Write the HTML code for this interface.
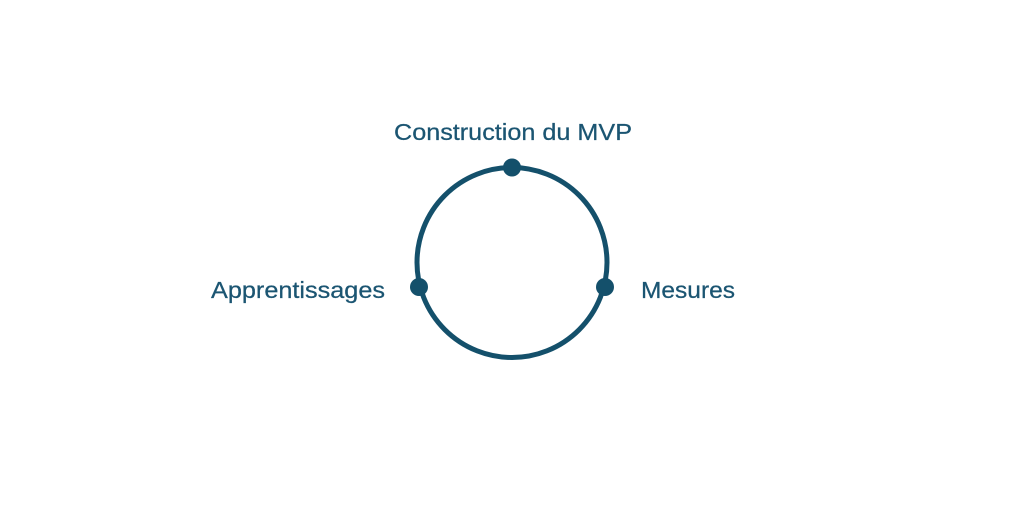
<!DOCTYPE html>
<html><head><style>
body{margin:0;width:1024px;height:500px;background:#fff;overflow:hidden}
svg text{font-family:"Liberation Sans",sans-serif;font-size:23px;fill:#1b5572;stroke:#1b5572;stroke-width:0.25}
</style></head><body>
<svg width="1024" height="500" viewBox="0 0 1024 500">
<circle cx="512" cy="262.5" r="95" fill="none" stroke="#14506b" stroke-width="5"/>
<circle cx="512" cy="167.5" r="9" fill="#14506b"/>
<circle cx="419" cy="287" r="9" fill="#14506b"/>
<circle cx="605" cy="287" r="9" fill="#14506b"/>
<text x="513" y="140" text-anchor="middle" textLength="238" lengthAdjust="spacingAndGlyphs">Construction du MVP</text>
<text x="385" y="298" text-anchor="end" textLength="174" lengthAdjust="spacingAndGlyphs">Apprentissages</text>
<text x="641" y="298" textLength="94" lengthAdjust="spacingAndGlyphs">Mesures</text>
</svg>
</body></html>
